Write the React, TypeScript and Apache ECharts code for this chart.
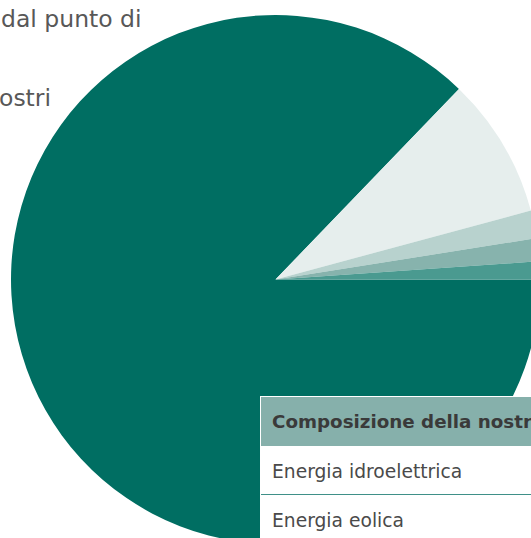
import React, { useEffect, useRef } from "react";
import * as echarts from "echarts";

const sourceNames = ["Energia idroelettrica", "Energia eolica", "Energia solare", "Biomasse", "Altre fonti"];
const sourceShares = [87.2, 8.6, 1.7, 1.4, 1.1];
const sourceColors = ["#006e62", "#e6eeed", "#b8d2ce", "#87b3ad", "#4a9a90"];
const introLines = ["dal punto di", "ostri"];
const tableTitle = "Composizione della nostra energia";
const tableRows = ["Energia idroelettrica", "Energia eolica"];

const FONT = '"DejaVu Sans", "Open Sans", sans-serif';

export default function App() {
  const ref = useRef<HTMLDivElement>(null);
  useEffect(() => {
    document.body.style.margin = "0";
    const chart = echarts.init(ref.current!, null, { renderer: "svg" });
    const graphics: any[] = [
      {
        type: "text",
        x: 1,
        y: 18.5,
        style: { text: introLines[0], font: `normal 23.5px ${FONT}`, fill: "#585858", verticalAlign: "middle" },
      },
      {
        type: "text",
        x: -1,
        y: 98,
        style: { text: introLines[1], font: `normal 23.5px ${FONT}`, fill: "#585858", verticalAlign: "middle" },
      },
      {
        type: "rect",
        shape: { x: 260, y: 396, width: 280, height: 150 },
        style: { fill: "#ffffff" },
      },
      {
        type: "rect",
        shape: { x: 261, y: 397, width: 280, height: 49 },
        style: { fill: "#86b0ab" },
      },
      {
        type: "line",
        shape: { x1: 261, y1: 494.5, x2: 540, y2: 494.5 },
        style: { stroke: "#3f9088", lineWidth: 1 },
      },
      {
        type: "text",
        x: 272,
        y: 421.5,
        style: { text: tableTitle, font: `bold 18.3px ${FONT}`, fill: "#3a3a3a", verticalAlign: "middle" },
      },
      {
        type: "text",
        x: 272,
        y: 471.5,
        style: { text: tableRows[0], font: `normal 18.7px ${FONT}`, fill: "#4a4a4a", verticalAlign: "middle" },
      },
      {
        type: "text",
        x: 272,
        y: 520,
        style: { text: tableRows[1], font: `normal 18.7px ${FONT}`, fill: "#4a4a4a", verticalAlign: "middle" },
      },
    ].map((g) => ({ ...g, z: 100 }));
    chart.setOption({
      animation: false,
      series: [
        {
          type: "pie",
          center: [275.5, 279.5],
          radius: 264.5,
          startAngle: 0,
          clockwise: true,
          label: { show: false },
          labelLine: { show: false },
          emphasis: { disabled: true },
          data: sourceNames.map((n, i) => ({ name: n, value: sourceShares[i], itemStyle: { color: sourceColors[i] } })),
        },
      ],
      graphic: graphics,
    });
    return () => chart.dispose();
  }, []);
  return <div ref={ref} style={{ position: "absolute", left: 0, top: 0, width: 531, height: 538 }} />;
}
